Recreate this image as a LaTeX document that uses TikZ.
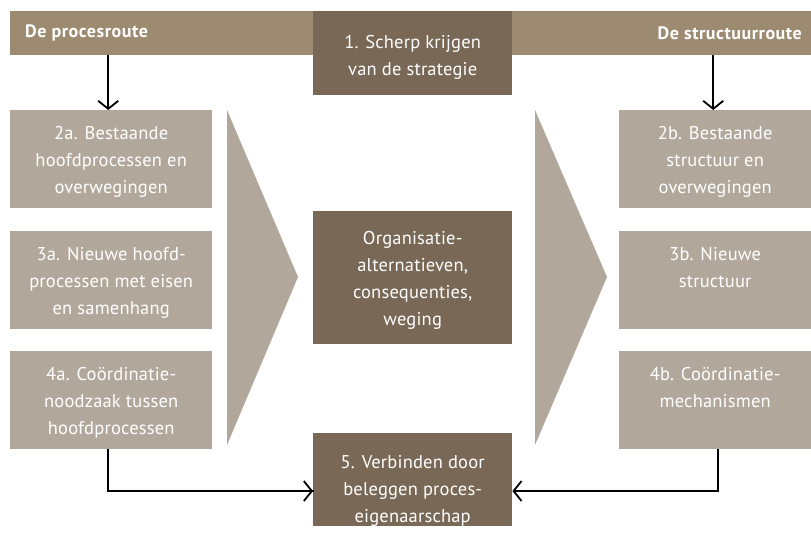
\documentclass[tikz,border=0pt]{standalone}
\usepackage{fontspec}
\setmainfont{PT Sans}
\newfontfamily\bodyfont[LetterSpace=1]{PT Sans}
\newfontfamily\labelfont[LetterSpace=3]{PT Sans}
\usetikzlibrary{arrows.meta}
\definecolor{barcol}{HTML}{9D8B71}
\definecolor{lightcol}{HTML}{B1A89B}
\definecolor{darkcol}{HTML}{796855}
\begin{document}
\begin{tikzpicture}[x=1pt,y=-1pt,
  lbox/.style={fill=lightcol, draw=none, inner sep=0pt, minimum width=202pt, minimum height=98pt, anchor=north west},
  dbox/.style={fill=darkcol, draw=none, inner sep=0pt, minimum width=199pt, anchor=north west},
  txt/.style={anchor=north, inner sep=0pt, align=center, text=white, font=\bodyfont\fontsize{18.5}{27}\selectfont},
  lbl/.style={inner sep=0pt, text=white, font=\labelfont\bfseries\fontsize{18}{20}\selectfont},
  arr/.style={draw=black, line width=1.8pt, -{Straight Barb[length=8pt,width=20pt,line width=1.8pt]}},
  tri/.style={fill=lightcol}]
\useasboundingbox (0,0) rectangle (811,536);
\clip (0,0) rectangle (811,536);
% top bar
\node[fill=barcol, inner sep=0pt, minimum width=801pt, minimum height=44pt, anchor=north west] (bar) at (10,11) {};
\node[lbl, anchor=west] (lblL) at (25,33) {De procesroute};
\node[lbl, anchor=east] (lblR) at (802,33) {De structuurroute};
% top center box
\node[dbox, minimum height=84pt] (b1) at (313,11) {};
\node[txt] (t1) at ([yshift=-24pt]b1.north) {1. Scherp krijgen\\van de strategie};
% left boxes
\node[lbox] (b2a) at (10,110) {};
\node[txt] (t2a) at ([yshift=-16pt]b2a.north) {2a. Bestaande\\hoofdprocessen en\\overwegingen};
\node[lbox] (b3a) at (10,231) {};
\node[txt] (t3a) at ([yshift=-16pt]b3a.north) {3a. Nieuwe hoofd-\\processen met eisen\\en samenhang};
\node[lbox] (b4a) at (10,351) {};
\node[txt] (t4a) at ([yshift=-16pt]b4a.north) {4a. Coördinatie-\\noodzaak tussen\\hoofdprocessen};
% right boxes
\node[lbox, minimum width=192pt] (b2b) at (619,110) {};
\node[txt] (t2b) at ([yshift=-16pt]b2b.north) {2b. Bestaande\\structuur en\\overwegingen};
\node[lbox, minimum width=192pt] (b3b) at (619,231) {};
\node[txt] (t3b) at ([yshift=-16pt]b3b.north) {3b. Nieuwe\\structuur};
\node[lbox, minimum width=192pt] (b4b) at (619,351) {};
\node[txt] (t4b) at ([yshift=-16pt]b4b.north) {4b. Coördinatie-\\mechanismen};
% triangles
\fill[tri] (227,110) -- (298,277) -- (227,445) -- cycle;
\fill[tri] (535,110) -- (607,277) -- (535,445) -- cycle;
% center box
\node[dbox, minimum height=133pt] (bc) at (313,211) {};
\node[txt] (tc) at ([yshift=-20pt]bc.north) {Organisatie-\\alternatieven,\\consequenties,\\weging};
% bottom box
\node[dbox, minimum height=93pt] (b5) at (313,433) {};
\node[txt] (t5) at ([yshift=-22pt]b5.north) {5. Verbinden door\\beleggen proces-\\eigenaarschap};
% arrows
\draw[arr] ([xshift=-3pt]b2a.north |- bar.south) -- ([xshift=-3pt]b2a.north);
\draw[arr] ([xshift=-2pt]b2b.north |- bar.south) -- ([xshift=-2pt]b2b.north);
\coordinate (m5) at ([yshift=-58pt]b5.north);
\draw[arr, -] ([xshift=-3pt]b4a.south) |- ([xshift=1pt]m5 -| b5.west);
\draw[arr] ([xshift=-3pt]b4a.south |- m5) -- (m5 -| b5.west);
\draw[arr] ([xshift=3pt]b4b.south) |- (m5 -| b5.east);
\end{tikzpicture}
\end{document}
